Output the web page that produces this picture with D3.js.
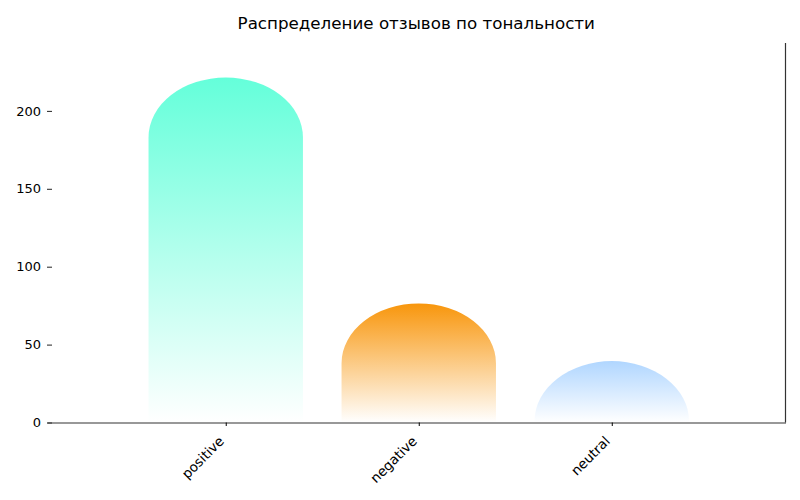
<!DOCTYPE html>
<html>
<head>
<meta charset="utf-8">
<script src="https://cdn.jsdelivr.net/npm/d3@7"></script>
<style>
  body { margin: 0; background: #fff; }
  svg { font-family: "DejaVu Sans", sans-serif; }
</style>
</head>
<body>
<svg id="chart" width="800" height="500"></svg>
<script>
// data
const categories = ["positive", "negative", "neutral"];
const counts = [183, 38, 1];
const colors = ["#64FFDA", "#F8960C", "#B0D6FF"];
const yTicks = [0, 50, 100, 150, 200];
const title = "Распределение отзывов по тональности";

const svg = d3.select("#chart");
const margin = { left: 47, right: 14.5, top: 43, bottom: 77.5 };
const width = 800 - margin.left - margin.right;
const height = 500 - margin.top - margin.bottom;

// cap = half-ellipse sitting on top of each bar
const capH = d3.max(counts) * 0.21;
const yMax = (d3.max(counts) + capH) * 1.1;

const x = d3.scaleLinear().domain([-0.926, 2.9]).range([0, width]);
const y = d3.scaleLinear().domain([0, yMax]).range([height, 0]);
const barW = 0.8;

const g = svg.append("g").attr("transform", `translate(${margin.left},${margin.top})`);

const defs = svg.append("defs");
categories.forEach((c, i) => {
  const grad = defs.append("linearGradient")
    .attr("id", "grad" + i)
    .attr("gradientUnits", "userSpaceOnUse")
    .attr("x1", 0).attr("x2", 0)
    .attr("y1", y(counts[i] + capH)).attr("y2", y(0));
  grad.append("stop").attr("offset", 0).attr("stop-color", colors[i]).attr("stop-opacity", 1);
  grad.append("stop").attr("offset", 1).attr("stop-color", colors[i]).attr("stop-opacity", 0);
});

// bar path: rectangle from 0 to value, plus half-ellipse cap
const barPath = (d, i) => {
  const x0 = x(i - barW / 2), x1 = x(i + barW / 2);
  const rx = (x1 - x0) / 2;
  const ry = y(0) - y(capH);
  const yTop = y(d);
  return `M${x0},${y(0)} L${x0},${yTop} A${rx},${ry} 0 0 1 ${x1},${yTop} L${x1},${y(0)} Z`;
};

g.selectAll("path.bar")
  .data(counts)
  .join("path")
  .attr("class", "bar")
  .attr("d", barPath)
  .attr("fill", (d, i) => `url(#grad${i})`);

// y axis (no spine, only ticks)
const yAxis = g.append("g")
  .call(d3.axisLeft(y).tickValues(yTicks).tickSize(-5).tickPadding(6));
yAxis.select(".domain").remove();
yAxis.selectAll("text").attr("font-size", 13).attr("fill", "#000").attr("font-family", "DejaVu Sans");
yAxis.selectAll("line").attr("stroke", "#222");

// x axis
const xAxis = g.append("g")
  .attr("transform", `translate(0,${height})`)
  .call(d3.axisBottom(x).tickValues([0, 1, 2]).tickFormat((d) => categories[d]).tickSize(3.5).tickSizeOuter(0));
xAxis.select(".domain").attr("stroke", "#333").attr("stroke-width", 1.2);
xAxis.selectAll("line").attr("stroke", "#000");
xAxis.selectAll("text")
  .attr("font-size", 13.5)
  .attr("fill", "#000")
  .attr("font-family", "DejaVu Sans")
  .attr("text-anchor", "end")
  .attr("dy", 0)
  .attr("transform", "translate(-6,15) rotate(-45)");

// right spine
g.append("line")
  .attr("x1", width).attr("x2", width)
  .attr("y1", 0).attr("y2", height)
  .attr("stroke", "#333").attr("stroke-width", 1.2);

svg.append("text")
  .attr("x", margin.left + width / 2)
  .attr("y", 29)
  .attr("text-anchor", "middle")
  .attr("font-size", 16.7)
  .attr("fill", "#000")
  .text(title);
</script>
</body>
</html>
